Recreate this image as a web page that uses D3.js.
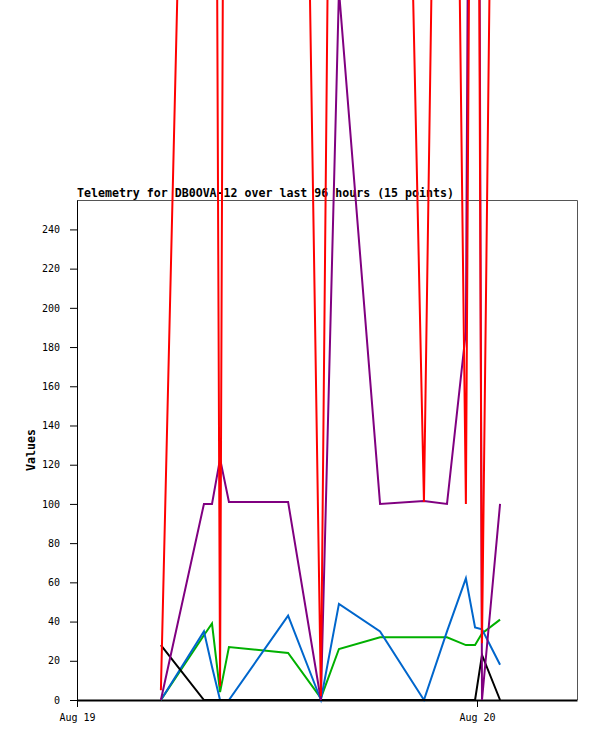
<!DOCTYPE html>
<html>
<head>
<meta charset="utf-8">
<script src="https://cdn.jsdelivr.net/npm/d3@7"></script>
<style>
  body { margin: 0; background: #fff; }
  .tick text { font-family: "DejaVu Sans Mono", monospace; font-size: 10px; fill: #000; }
</style>
</head>
<body>
<div id="chart"></div>
<script>
// Sample times (15 telemetry packets)
const times = [
  '2024-08-19 05:02', '2024-08-19 07:37', '2024-08-19 08:06', '2024-08-19 08:35',
  '2024-08-19 09:07', '2024-08-19 12:40', '2024-08-19 14:38', '2024-08-19 15:43',
  '2024-08-19 18:11', '2024-08-19 20:49', '2024-08-19 22:12', '2024-08-19 23:20',
  '2024-08-19 23:53', '2024-08-20 00:18', '2024-08-20 01:23'
];

// Channel values (values above the plot are estimates)
const greenValues  = [0, 33, 39, 4, 27, 24, 1, 26, 32, 32, 32, 28, 28, 34, 41];
const blueValues   = [0, 35, 17, 0, 0, 43, 0, 49, 35, 0, 35, 62, 37, 36, 18];
const blackValues  = [28, 0, 0, 0, 0, 0, 0, 0, 0, 0, 0, 0, 0, 23, 0];
const purpleValues = [0, 100, 100, 123, 101, 101, 0, 362, 100, 101.5, 100, 188, 1090, 0, 100];
const redValues    = [5, 933, 1000, 7, 1150, 1072, 2, 974, 1146, 101, 900, 100, 872, 29, 830];

const yTicks = [0, 20, 40, 60, 80, 100, 120, 140, 160, 180, 200, 220, 240];
const xStart = '2024-08-19 00:00';
const xEnd = '2024-08-20 06:00';

const title = 'Telemetry for DB0OVA-12 over last 96 hours (15 points)';

// Series in drawing order (last one on top)
const series = [
  { values: greenValues, color: '#00b000' },
  { values: blueValues, color: '#0066cc' },
  { values: blackValues, color: '#000000' },
  { values: purpleValues, color: '#800080' },
  { values: redValues, color: '#ff0000' }
];

const width = 597;
const height = 741;
const margin = { top: 200, right: 20, bottom: 41, left: 77 };
const innerW = width - margin.left - margin.right;
const innerH = height - margin.top - margin.bottom;

const parse = d3.timeParse('%Y-%m-%d %H:%M');
const dates = times.map(parse);

const svg = d3.select('#chart').append('svg')
  .attr('width', width)
  .attr('height', height);

const x = d3.scaleTime()
  .domain([parse(xStart), parse(xEnd)])
  .range([0, innerW]);

const y = d3.scaleLinear()
  .domain([0, 255])
  .range([innerH, 0]);

// Title sits under the lines
svg.append('text')
  .attr('x', margin.left)
  .attr('y', 197)
  .attr('font-family', '"DejaVu Sans Mono", monospace')
  .attr('font-size', '11.6px')
  .attr('font-weight', 'bold')
  .text(title);

svg.append('text')
  .attr('transform', `translate(35, ${margin.top + innerH / 2}) rotate(-90)`)
  .attr('text-anchor', 'middle')
  .attr('font-family', '"DejaVu Sans Mono", monospace')
  .attr('font-size', '11.6px')
  .attr('font-weight', 'bold')
  .text('Values');

const g = svg.append('g')
  .attr('transform', `translate(${margin.left}, ${margin.top})`);

// Frame: top and right edges
g.append('path')
  .attr('d', `M0,0.5H${innerW + 0.5}V${innerH}`)
  .attr('fill', 'none')
  .attr('stroke', '#555')
  .attr('stroke-width', 1);

// Axes
const yAxis = g.append('g')
  .call(d3.axisLeft(y).tickValues(yTicks).tickSize(7).tickPadding(10).tickSizeOuter(0));
yAxis.select('.domain').attr('stroke', '#000');

const xAxis = g.append('g')
  .attr('transform', `translate(0, ${innerH})`)
  .call(d3.axisBottom(x)
    .ticks(d3.timeDay.every(1))
    .tickFormat(d3.timeFormat('%b %d'))
    .tickSize(7)
    .tickPadding(7)
    .tickSizeOuter(0));
xAxis.select('.domain').attr('stroke-width', 2);

// Lines are not clipped to the plot area
const line = d3.line()
  .x(d => x(d.date))
  .y(d => y(d.value));

series.forEach(s => {
  const pts = dates.map((d, i) => ({ date: d, value: s.values[i] }));
  g.append('path')
    .datum(pts)
    .attr('d', line)
    .attr('fill', 'none')
    .attr('stroke', s.color)
    .attr('stroke-width', 2)
    .attr('stroke-linejoin', 'miter');
});
</script>
</body>
</html>
